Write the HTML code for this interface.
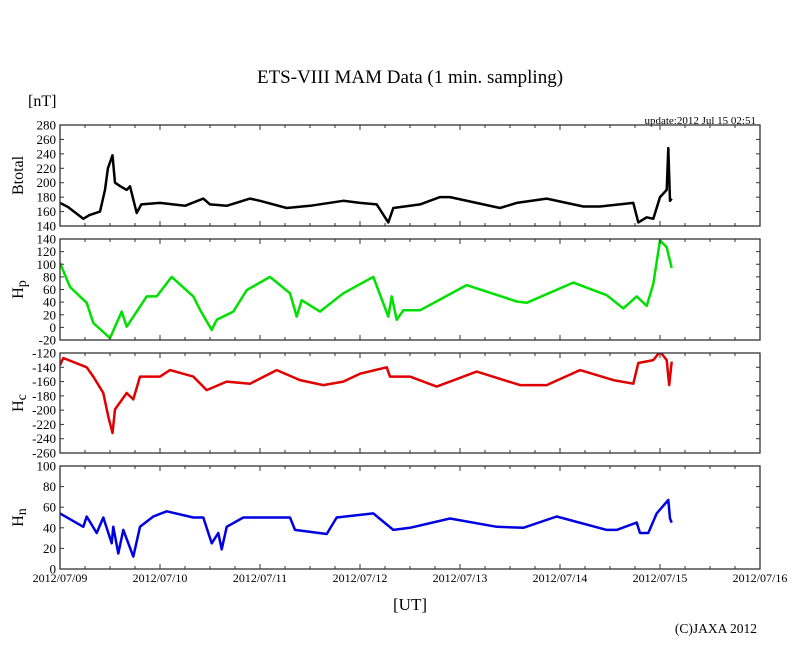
<!DOCTYPE html>
<html><head><meta charset="utf-8"><style>
html,body{margin:0;padding:0;background:#fff;}
svg text{font-family:"Liberation Serif",serif;fill:#000;}
</style></head><body>
<svg id="chart" width="810" height="655" viewBox="0 0 810 655" xmlns="http://www.w3.org/2000/svg">
<text x="410" y="83" font-size="19" text-anchor="middle">ETS-VIII MAM Data (1 min. sampling)</text>
<text x="28" y="106" font-size="16">[nT]</text>
<text x="756" y="124" font-size="11" text-anchor="end">update:2012 Jul 15 02:51</text>
<text x="410" y="610" font-size="17" text-anchor="middle">[UT]</text>
<text x="757" y="633" font-size="13.5" text-anchor="end">(C)JAXA 2012</text>
<g id="panels"></g>
</svg>
<script>
const xTickLabels = ["2012/07/09","2012/07/10","2012/07/11","2012/07/12","2012/07/13","2012/07/14","2012/07/15","2012/07/16"];
const btHours = [0,2,5.6,7,9.6,10.8,11.5,12.6,13.2,14.5,16,16.8,18.4,19.5,24,30,34.4,36,40,45.6,48,54.4,60,68,72,76,78.8,80,84,86.4,91.2,93.6,101.6,105.6,109.6,116.8,125.6,129.6,137.6,138.8,140.8,142.4,144,145.6,146,146.4,146.8];
const btValues = [172,166,150,155,160,190,220,238,200,195,190,195,158,170,172,168,178,170,168,178,175,165,168,175,172,170,145,165,168,170,180,180,170,165,172,178,167,167,172,145,152,150,180,190,248,175,178];
const hpHours = [0,2.4,6.4,8,12,14.8,16,20.8,23.2,26.8,32,33.6,36.4,37.6,41.6,44.8,50.4,55.2,56.8,58,62.4,68,75.2,78.8,79.6,80.8,82.4,86.4,97.6,109.6,112,123.2,131.2,135.2,138.4,140.8,142.4,144,145.6,146.4,146.8];
const hpValues = [102,64,39,7,-17,25,1,49,49,80,49,28,-4,12,25,59,80,54,17,43,25,54,80,17,49,12,27,27,67,41,39,71,51,30,49,34,69,138,127,105,94];
const hcHours = [0,0.8,6.4,8,10.4,11.6,12.6,13.2,16,17.6,19.2,24,26.4,32,35.2,40,45.6,52,57.6,63.2,68,72,78.4,79.2,84,90.4,100,110.4,116.8,124.8,132.8,137.6,138.8,142.4,144,145.6,146.2,146.8];
const hcValues = [-137,-127,-140,-153,-176,-209,-232,-199,-176,-185,-153,-153,-144,-153,-172,-160,-163,-144,-158,-165,-160,-149,-140,-153,-153,-167,-146,-165,-165,-144,-158,-163,-134,-130,-118,-130,-165,-132];
const hnHours = [0,5.6,6.4,8.8,10.4,12.4,12.8,14,15.2,17.6,19.2,22.4,25.6,32,34.4,36.4,38,38.8,40,44,55.2,56.4,64,66.4,75.2,80,84,93.6,104.8,111.2,119.2,131.2,133.6,138.4,139.2,141.2,143.2,146,146.4,146.8];
const hnValues = [54,41,51,35,50,25,41,15,38,12,41,51,56,50,50,25,35,19,41,50,50,38,34,50,54,38,40,49,41,40,51,38,38,45,35,35,54,67,49,45];
const panelNames = ["Btotal","Hp","Hc","Hn"];
const panelTicks = [[140,160,180,200,220,240,260,280],[-20,0,20,40,60,80,100,120,140],[-260,-240,-220,-200,-180,-160,-140,-120],[0,20,40,60,80,100]];

const NS="http://www.w3.org/2000/svg";
const X0=60,X1=760,HOURS=168;
function xs(h){return X0+h/HOURS*(X1-X0);}
const panels=[
 {top:125,bot:226,min:140,max:280,h:btHours,v:btValues,color:"#000",sub:null},
 {top:239,bot:340,min:-20,max:140,h:hpHours,v:hpValues,color:"#00e000",sub:"p"},
 {top:353,bot:453,min:-260,max:-120,h:hcHours,v:hcValues,color:"#e00000",sub:"c"},
 {top:466,bot:569,min:0,max:100,h:hnHours,v:hnValues,color:"#0000e0",sub:"n"}
];
const root=document.getElementById('panels');
function mk(tag,attrs,parent){const e=document.createElementNS(NS,tag);for(const k in attrs)e.setAttribute(k,attrs[k]);(parent||root).appendChild(e);return e;}
panels.forEach((p,i)=>{
 const ys=v=>p.bot-(v-p.min)/(p.max-p.min)*(p.bot-p.top);
 const g=mk('g',{});
 
 
 const cp=mk('clipPath',{id:'cp'+i},g);
 mk('rect',{x:X0,y:p.top,width:X1-X0,height:p.bot-p.top},cp);
 let d='';
 p.h.forEach((h,j)=>{d+=(j?'L':'M')+xs(h).toFixed(1)+' '+ys(p.v[j]).toFixed(1);});
 const line=mk('path',{d:d,fill:'none',stroke:p.color,'stroke-width':2.5,'stroke-linejoin':'round','clip-path':'url(#cp'+i+')'},g);
 
 
 const fr=mk('rect',{x:X0,y:p.top,width:X1-X0,height:p.bot-p.top,fill:'none',stroke:'#333','stroke-width':1.3},g);
 
 
 for(let h=0;h<=HOURS;h+=6){
  const x=xs(h),len=(h%24===0)?5:3;
  mk('line',{x1:x,y1:p.top,x2:x,y2:p.top+len,stroke:'#333'},g);
  mk('line',{x1:x,y1:p.bot,x2:x,y2:p.bot-len,stroke:'#333'},g);
 }
 panelTicks[i].forEach(t=>{
  const y=ys(t);
  mk('line',{x1:X0,y1:y,x2:X0+4,y2:y,stroke:'#333'},g);
  mk('line',{x1:X1,y1:y,x2:X1-4,y2:y,stroke:'#333'},g);
  const tx=mk('text',{x:56,y:y+4.5,'font-size':13,'text-anchor':'end'},g);
  tx.textContent=t;
  
  
 });
 const cy=(p.top+p.bot)/2;
 const lab=mk('text',{x:0,y:0,'font-size':16,'text-anchor':'middle',transform:'translate(23,'+cy+') rotate(-90)'},g);
 
 
 if(p.sub){
  lab.textContent='H';
  const ts=document.createElementNS(NS,'tspan');ts.setAttribute('font-size','14');ts.setAttribute('dy','3');ts.textContent=p.sub;lab.appendChild(ts);
 } else lab.textContent=panelNames[i];
});
xTickLabels.forEach((s,i)=>{
 const t=mk('text',{x:xs(i*24),y:582,'font-size':12,'text-anchor':'middle'});
 t.textContent=s;
 
 
});
</script>
</body></html>
